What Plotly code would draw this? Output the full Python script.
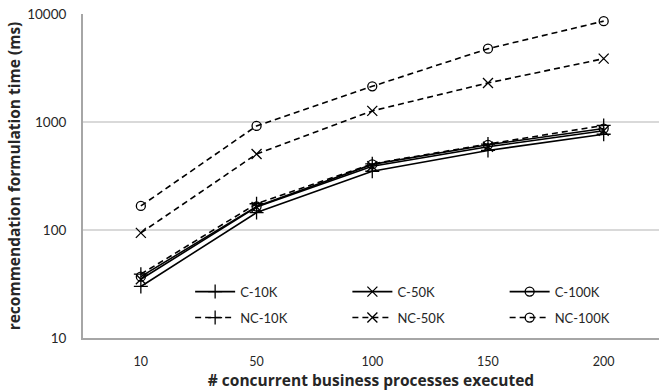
import plotly.graph_objects as go

# Number of concurrent business processes executed
processes = ["10", "50", "100", "150", "200"]

# Recommendation formulation time (ms)
c_10k = [30, 145, 350, 545, 770]
c_50k = [35, 163, 390, 590, 830]
c_100k = [37, 165, 405, 615, 870]
nc_10k = [39, 175, 410, 625, 930]
nc_50k = [94, 505, 1267, 2300, 3860]
nc_100k = [167, 920, 2140, 4770, 8590]

FONT = "Lato, 'Open Sans', sans-serif"
TITLE_FONT = "'Open Sans', Lato, sans-serif"
TEXT = "#262626"

# name, values, marker symbol, dashed?, legend column x, legend row y
series = [
    ("C-10K", c_10k, "cross-thin", False, 0.186, 0.143),
    ("C-50K", c_50k, "x-thin", False, 0.459, 0.143),
    ("C-100K", c_100k, "circle-open", False, 0.732, 0.143),
    ("NC-10K", nc_10k, "cross-thin", True, 0.186, 0.063),
    ("NC-50K", nc_50k, "x-thin", True, 0.459, 0.063),
    ("NC-100K", nc_100k, "circle-open", True, 0.732, 0.063),
]

fig = go.Figure()
legends = {}
for i, (name, vals, sym, dashed, lx, ly) in enumerate(series):
    key = "legend" if i == 0 else f"legend{i + 1}"
    fig.add_trace(go.Scatter(
        x=list(range(len(processes))), y=vals, name=name, mode="lines+markers",
        line=dict(color="black", width=1.6, dash="6px,4px" if dashed else "solid"),
        marker=dict(symbol=sym, size=10 if sym != "circle-open" else 9,
                    color="black", line=dict(color="black", width=1.3)),
        legend=key, showlegend=True,
    ))
    legends[key] = dict(
        x=lx, y=ly, xanchor="left", yanchor="middle",
        bgcolor="rgba(0,0,0,0)", itemwidth=40,
        font=dict(family=FONT, size=13, color=TEXT),
    )

fig.update_layout(
    width=659, height=392,
    margin=dict(l=83, r=0, t=14, b=54),
    paper_bgcolor="white", plot_bgcolor="white",
    showlegend=True,
    font=dict(family=FONT, size=13, color=TEXT),
    xaxis=dict(
        tickmode="array", tickvals=list(range(len(processes))), ticktext=processes,
        range=[-0.5, 4.478], showgrid=False, zeroline=False,
        showline=True, linecolor="#a6a6a6", linewidth=2, ticks="",
        ticklabelstandoff=11,
        tickfont=dict(family=FONT, size=12.5, color=TEXT),
        title=dict(text="# concurrent business processes executed",
                   font=dict(family=TITLE_FONT, size=15.5, color=TEXT, weight="bold"),
                   standoff=3),
    ),
    yaxis=dict(
        type="log", range=[1, 4],
        tickvals=[10, 100, 1000, 10000], ticktext=["10", "100", "1000", "10000"],
        showgrid=True, gridcolor="#d9d9d9", gridwidth=1.5, zeroline=False,
        showline=True, linecolor="#a6a6a6", linewidth=2, ticks="",
        ticklabelstandoff=12,
        tickfont=dict(family=FONT, size=13.5, color=TEXT),
        title=dict(text="recommendation formulation time (ms)",
                   font=dict(family=TITLE_FONT, size=15.5, color=TEXT, weight="bold"),
                   standoff=3),
    ),
    **legends,
)

fig.write_html("out.html")
